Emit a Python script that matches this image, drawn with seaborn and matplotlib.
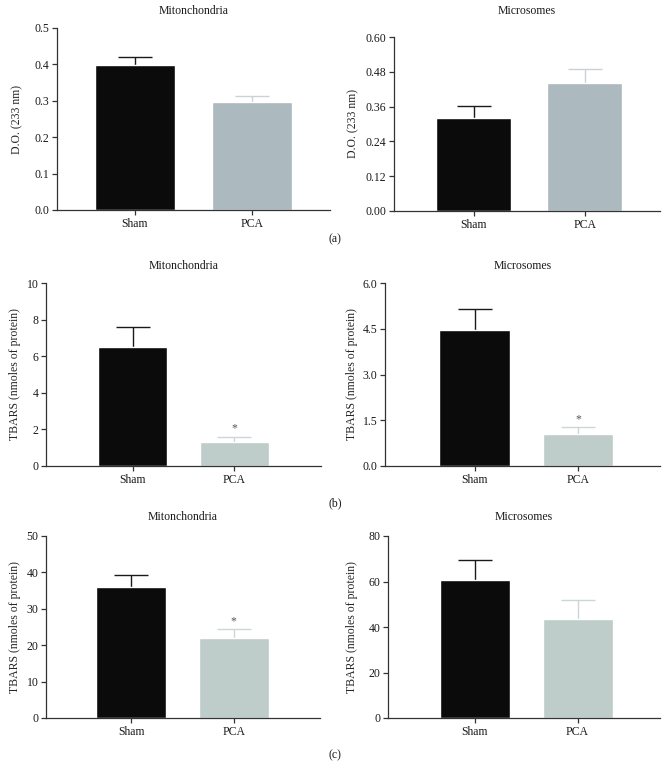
import numpy as np
import pandas as pd
import matplotlib
matplotlib.use('Agg')
import matplotlib.pyplot as plt
import seaborn as sns

# values (mean and upper error)
groups = ['Sham', 'PCA']

do_mito_mean = [0.397, 0.297]
do_mito_err = [0.024, 0.017]
do_micro_mean = [0.319, 0.441]
do_micro_err = [0.043, 0.050]

tb_mito_b_mean = [6.5, 1.31]
tb_mito_b_err = [1.07, 0.30]
tb_micro_b_mean = [4.47, 1.05]
tb_micro_b_err = [0.68, 0.22]

tb_mito_c_mean = [36.1, 21.9]
tb_mito_c_err = [3.3, 2.5]
tb_micro_c_mean = [60.7, 43.7]
tb_micro_c_err = [8.9, 8.1]

W, H = 670, 776
FS = 8.5
sns.set_style('ticks')
plt.rcParams['font.family'] = ['Liberation Serif', 'DejaVu Serif']
plt.rcParams['font.size'] = FS

fig = plt.figure(figsize=(W / 100, H / 100), dpi=100)


def px_axes(x0, x1, ytop, ybot):
    return fig.add_axes([x0 / W, 1 - ybot / H, (x1 - x0) / W, (ybot - ytop) / H])


def panel(box, title, title_y, means, errs, ylim, yticks, ytick_fmt, ylabel,
          ylabel_x, xlim, pca_color, pca_err_color, stars=False):
    x0, x1, ytop, ybot = box
    ax = px_axes(x0, x1, ytop, ybot)
    df = pd.DataFrame({'group': groups, 'value': means})
    sns.barplot(data=df, x='group', y='value', hue='group',
                palette={'Sham': '#0b0b0b', 'PCA': pca_color},
                width=0.68, saturation=1, errorbar=None, legend=False, ax=ax)
    err_colors = ['#1a1a1a', pca_err_color]
    for i in range(len(groups)):
        _, caps, _ = ax.errorbar(i, means[i], yerr=[[0], [errs[i]]], fmt='none',
                                 ecolor=err_colors[i], elinewidth=1.0,
                                 capsize=12.5, capthick=1.0, zorder=0.5)
        # only the upper cap
        caps[0].set_visible(False)
    if stars:
        ax.annotate('*', xy=(1, means[1] + errs[1]), xytext=(0, 1.5),
                    textcoords='offset points', ha='center', va='bottom',
                    fontsize=8.5, color='#555555')
    ax.set_ylim(*ylim)
    ax.set_yticks(yticks)
    ax.set_yticklabels([ytick_fmt.format(v) for v in yticks])
    ax.set_xlim(*xlim)
    ax.set_xlabel('')
    ax.set_ylabel(ylabel, fontsize=FS)
    # label anchor is its right edge, so shift by half the text height
    ax.yaxis.set_label_coords((ylabel_x + 6 - x0) / (x1 - x0), 0.5)
    sns.despine(ax=ax)
    for s in ['left', 'bottom']:
        ax.spines[s].set_color('#333333')
        ax.spines[s].set_linewidth(0.9)
    ax.tick_params(axis='both', length=3.5, width=0.9, color='#333333',
                   pad=2, labelsize=FS, labelcolor='#1a1a1a')
    fig.text(((x0 + x1) / 2) / W, 1 - title_y / H, title, ha='center',
             va='center', fontsize=FS, color='#1a1a1a')
    return ax


# row (a)
panel((57, 330, 28, 210), 'Mitonchondria', 11, do_mito_mean, do_mito_err,
      (0, 0.5), [0, 0.1, 0.2, 0.3, 0.4, 0.5], '{:.1f}', 'D.O. (233 nm)', 17,
      (-0.66, 1.66), '#acb9be', '#c9d3d7')
panel((394, 660, 37, 211), 'Microsomes', 11, do_micro_mean, do_micro_err,
      (0, 0.6), [0, 0.12, 0.24, 0.36, 0.48, 0.60], '{:.2f}', 'D.O. (233 nm)', 353,
      (-0.72, 1.68), '#acb9be', '#c9d3d7')

# row (b)
panel((46, 321, 283, 466), 'Mitonchondria', 266, tb_mito_b_mean, tb_mito_b_err,
      (0, 10), [0, 2, 4, 6, 8, 10], '{:g}', 'TBARS (nmoles of protein)', 15,
      (-0.85, 1.85), '#bfcdca', '#ccd7d5', stars=True)
panel((385, 660, 283, 466), 'Microsomes', 266, tb_micro_b_mean, tb_micro_b_err,
      (0, 6), [0, 1.5, 3.0, 4.5, 6.0], '{:.1f}', 'TBARS (nmoles of protein)', 352,
      (-0.865, 1.79), '#bfcdca', '#ccd7d5', stars=True)

# row (c)
panel((46, 320, 536, 718), 'Mitonchondria', 517, tb_mito_c_mean, tb_mito_c_err,
      (0, 50), [0, 10, 20, 30, 40, 50], '{:g}', 'TBARS (nmoles of protein)', 15,
      (-0.83, 1.84), '#bfcdca', '#ccd7d5', stars=True)
panel((388, 660, 536, 718), 'Microsomes', 517, tb_micro_c_mean, tb_micro_c_err,
      (0, 80), [0, 20, 40, 60, 80], '{:g}', 'TBARS (nmoles of protein)', 352,
      (-0.84, 1.80), '#bfcdca', '#ccd7d5')

for lab, y in [('(a)', 239), ('(b)', 503), ('(c)', 755)]:
    fig.text(335 / W, 1 - y / H, lab, ha='center', va='center', fontsize=FS,
             color='#1a1a1a')

fig.savefig('out.png', dpi=100)
